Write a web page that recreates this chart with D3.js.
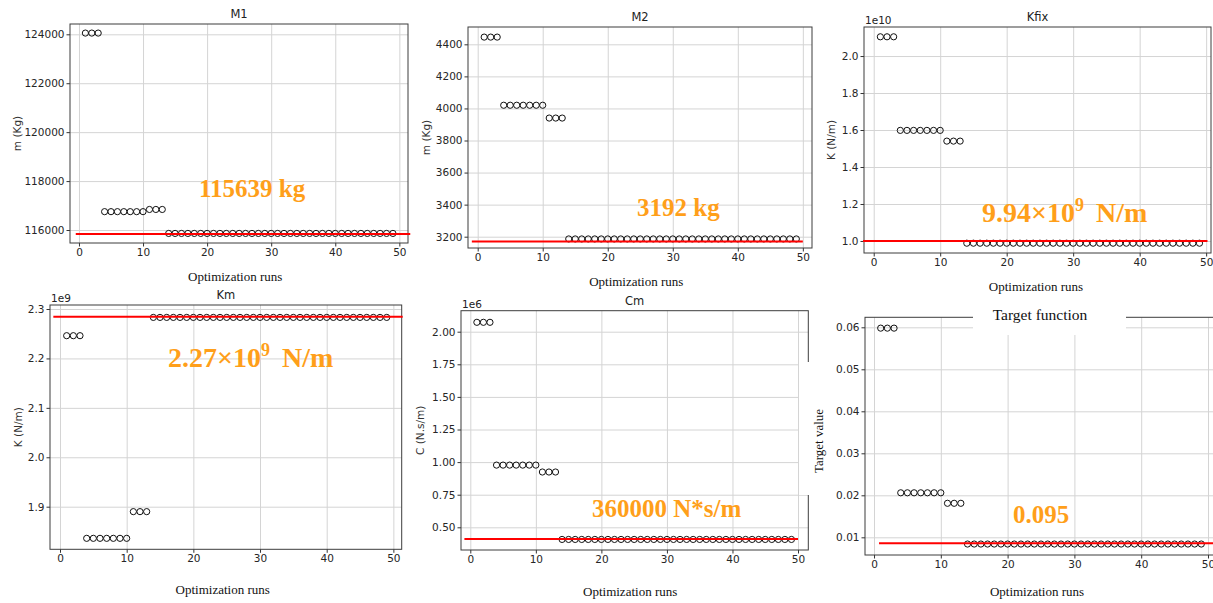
<!DOCTYPE html>
<html>
<head>
<meta charset="utf-8">
<script src="https://cdn.jsdelivr.net/npm/d3@7"></script>
<style>
body { margin: 0; background: #fff; }
svg { display: block; }
.tick text { font-family: "DejaVu Sans", sans-serif; font-size: 10.5px; fill: #262626; }
.axis .tick line { stroke: #333; }
.grid .tick line { stroke: #d4d4d4; }
.serif { font-family: "Liberation Serif", "Times New Roman", serif; }
.sans { font-family: "DejaVu Sans", sans-serif; }
</style>
</head>
<body>
<script>
var w = 1213;
var h = 603;

// optimization run index, x axis
var runs = [1, 2, 3, 4, 5, 6, 7, 8, 9, 10, 11, 12, 13, 14, 15, 16, 17, 18, 19, 20,
    21, 22, 23, 24, 25, 26, 27, 28, 29, 30, 31, 32, 33, 34, 35, 36, 37, 38, 39, 40,
    41, 42, 43, 44, 45, 46, 47, 48, 49];
var runTicks = [0, 10, 20, 30, 40, 50];

// M1 (kg)
var m1Values = [124050, 124050, 124050,
    116750, 116750, 116750, 116750, 116750, 116750, 116750,
    116840, 116840, 116840,
    115860, 115860, 115860, 115860, 115860, 115860, 115860, 115860, 115860, 115860, 115860, 115860,
    115860, 115860, 115860, 115860, 115860, 115860, 115860, 115860, 115860, 115860, 115860, 115860,
    115860, 115860, 115860, 115860, 115860, 115860, 115860, 115860, 115860, 115860, 115860, 115860];
var m1Optimum = 115840;
var m1Ticks = [116000, 118000, 120000, 122000, 124000];

// M2 (kg)
var m2Values = [4445, 4445, 4445,
    4020, 4020, 4020, 4020, 4020, 4020, 4020,
    3940, 3940, 3940,
    3186, 3186, 3186, 3186, 3186, 3186, 3186, 3186, 3186, 3186, 3186, 3186,
    3186, 3186, 3186, 3186, 3186, 3186, 3186, 3186, 3186, 3186, 3186, 3186,
    3186, 3186, 3186, 3186, 3186, 3186, 3186, 3186, 3186, 3186, 3186, 3186];
var m2Optimum = 3170;
var m2Ticks = [3200, 3400, 3600, 3800, 4000, 4200, 4400];

// Kfix (N/m)
var kfixValues = [2.104e10, 2.104e10, 2.104e10,
    1.598e10, 1.598e10, 1.598e10, 1.598e10, 1.598e10, 1.598e10, 1.598e10,
    1.540e10, 1.540e10, 1.540e10,
    0.988e10, 0.988e10, 0.988e10, 0.988e10, 0.988e10, 0.988e10, 0.988e10, 0.988e10, 0.988e10, 0.988e10, 0.988e10, 0.988e10,
    0.988e10, 0.988e10, 0.988e10, 0.988e10, 0.988e10, 0.988e10, 0.988e10, 0.988e10, 0.988e10, 0.988e10, 0.988e10, 0.988e10,
    0.988e10, 0.988e10, 0.988e10, 0.988e10, 0.988e10, 0.988e10, 0.988e10, 0.988e10, 0.988e10, 0.988e10, 0.988e10, 0.988e10];
var kfixOptimum = 1.0e10;
var kfixTicks = [1.0e10, 1.2e10, 1.4e10, 1.6e10, 1.8e10, 2.0e10];

// Km (N/m)
var kmValues = [2.246e9, 2.246e9, 2.246e9,
    1.836e9, 1.836e9, 1.836e9, 1.836e9, 1.836e9, 1.836e9, 1.836e9,
    1.890e9, 1.890e9, 1.890e9,
    2.283e9, 2.283e9, 2.283e9, 2.283e9, 2.283e9, 2.283e9, 2.283e9, 2.283e9, 2.283e9, 2.283e9, 2.283e9, 2.283e9,
    2.283e9, 2.283e9, 2.283e9, 2.283e9, 2.283e9, 2.283e9, 2.283e9, 2.283e9, 2.283e9, 2.283e9, 2.283e9, 2.283e9,
    2.283e9, 2.283e9, 2.283e9, 2.283e9, 2.283e9, 2.283e9, 2.283e9, 2.283e9, 2.283e9, 2.283e9, 2.283e9, 2.283e9];
var kmOptimum = 2.2845e9;
var kmTicks = [1.9e9, 2.0e9, 2.1e9, 2.2e9, 2.3e9];

// Cm (N.s/m)
var cmValues = [2.072e6, 2.072e6, 2.072e6,
    0.977e6, 0.977e6, 0.977e6, 0.977e6, 0.977e6, 0.977e6, 0.977e6,
    0.924e6, 0.924e6, 0.924e6,
    0.407e6, 0.407e6, 0.407e6, 0.407e6, 0.407e6, 0.407e6, 0.407e6, 0.407e6, 0.407e6, 0.407e6, 0.407e6, 0.407e6,
    0.407e6, 0.407e6, 0.407e6, 0.407e6, 0.407e6, 0.407e6, 0.407e6, 0.407e6, 0.407e6, 0.407e6, 0.407e6, 0.407e6,
    0.407e6, 0.407e6, 0.407e6, 0.407e6, 0.407e6, 0.407e6, 0.407e6, 0.407e6, 0.407e6, 0.407e6, 0.407e6, 0.407e6];
var cmOptimum = 0.41e6;
var cmTicks = [0.5e6, 0.75e6, 1.0e6, 1.25e6, 1.5e6, 1.75e6, 2.0e6];

// target function
var targetValues = [0.0598, 0.0598, 0.0598,
    0.0206, 0.0206, 0.0206, 0.0206, 0.0206, 0.0206, 0.0206,
    0.0181, 0.0181, 0.0181,
    0.0084, 0.0084, 0.0084, 0.0084, 0.0084, 0.0084, 0.0084, 0.0084, 0.0084, 0.0084, 0.0084, 0.0084,
    0.0084, 0.0084, 0.0084, 0.0084, 0.0084, 0.0084, 0.0084, 0.0084, 0.0084, 0.0084, 0.0084, 0.0084,
    0.0084, 0.0084, 0.0084, 0.0084, 0.0084, 0.0084, 0.0084, 0.0084, 0.0084, 0.0084, 0.0084, 0.0084];
var targetOptimum = 0.00857;
var targetTicks = [0.01, 0.02, 0.03, 0.04, 0.05, 0.06];

var svg = d3.select("body")
    .append("svg")
    .attr("width", w)
    .attr("height", h);

svg.append("rect").attr("width", w).attr("height", h).attr("fill", "#fff");

// panel layout (frame in px, domains)
var panels = [
    {title: "M1", values: m1Values, optimum: m1Optimum, yTicks: m1Ticks,
     left: 70, top: 24, right: 408, bottom: 243, xDomain: [-1.40, 51.35], yDomain: [115469, 124421],
     lineX: [-0.5, 51.7], fmt: d3.format("d"), yLabel: "m (Kg)", yLabelX: 16.5,
     value: ["115639 kg"], valueSize: 25, valueX: 199, valueY: 197, xLabelY: 281},
    {title: "M2", values: m2Values, optimum: m2Optimum, yTicks: m2Ticks,
     left: 468, top: 27, right: 812, bottom: 248, xDomain: [-1.49, 51.41], yDomain: [3129.5, 4508],
     lineX: [-0.9, 50], fmt: d3.format("d"), yLabel: "m (Kg)", yLabelX: 426,
     value: ["3192 kg"], valueSize: 25, valueX: 637, valueY: 216, xLabelY: 286},
    {title: "Kfix", values: kfixValues, optimum: kfixOptimum, yTicks: kfixTicks,
     left: 864, top: 27, right: 1211, bottom: 253, xDomain: [-1.46, 50.73], yDomain: [0.935e10, 2.157e10],
     lineX: [-1.6, 50.2], fmt: function (d) { return (d / 1e10).toFixed(1); }, offset: "1e10",
     yLabel: "K (N/m)", yLabelX: 831, value: ["9.94\u00d710", "9", "N/m"], valueSize: 28,
     valueX: 982, valueY: 222, xLabelY: 291},
    {title: "Km", values: kmValues, optimum: kmOptimum, yTicks: kmTicks,
     left: 50, top: 305, right: 401.7, bottom: 549.3, xDomain: [-1.5, 51.25], yDomain: [1.8138e9, 2.3081e9],
     lineX: [-1.0, 51.4], fmt: function (d) { return (d / 1e9).toFixed(1); }, offset: "1e9",
     yLabel: "K (N/m)", yLabelX: 17.5, value: ["2.27\u00d710", "9", "N/m"], valueSize: 28,
     valueX: 168, valueY: 367, xLabelY: 594},
    {title: "Cm", values: cmValues, optimum: cmOptimum, yTicks: cmTicks,
     left: 461, top: 310.7, right: 808.3, bottom: 550, xDomain: [-1.42, 51.57], yDomain: [0.326e6, 2.161e6],
     lineX: [-0.9, 50], fmt: function (d) { return (d / 1e6).toFixed(2); }, offset: "1e6",
     yLabel: "C (N.s/m)", yLabelX: 420, value: ["360000 N*s/m"], valueSize: 25,
     valueX: 592, valueY: 517, xLabelY: 596},
    {title: null, values: targetValues, optimum: targetOptimum, yTicks: targetTicks,
     left: 865, top: 317.3, right: 1216, bottom: 555, xDomain: [-1.35, 51.2], yDomain: [0.00579, 0.06238],
     lineX: [0.75, 51.2], fmt: function (d) { return d.toFixed(2); },
     yLabel: null, value: ["0.095"], valueSize: 25, valueX: 1013, valueY: 523, xLabelY: 596}
];

function drawPanel(p) {
    var xScale = d3.scaleLinear().domain(p.xDomain).range([p.left, p.right]);
    var yScale = d3.scaleLinear().domain(p.yDomain).range([p.bottom, p.top]);
    var g = svg.append("g");

    // grid lines
    g.append("g")
        .attr("class", "grid")
        .attr("transform", "translate(0," + p.bottom + ")")
        .call(d3.axisBottom(xScale).tickValues(runTicks).tickSize(-(p.bottom - p.top)).tickFormat(""))
        .call(function (s) { s.select(".domain").remove(); });
    g.append("g")
        .attr("class", "grid")
        .attr("transform", "translate(" + p.left + ",0)")
        .call(d3.axisLeft(yScale).tickValues(p.yTicks).tickSize(-(p.right - p.left)).tickFormat(""))
        .call(function (s) { s.select(".domain").remove(); });

    // axes
    g.append("g")
        .attr("class", "axis")
        .attr("transform", "translate(0," + p.bottom + ")")
        .call(d3.axisBottom(xScale).tickValues(runTicks).tickSize(3.5).tickPadding(2))
        .call(function (s) { s.select(".domain").remove(); });
    g.append("g")
        .attr("class", "axis")
        .attr("transform", "translate(" + p.left + ",0)")
        .call(d3.axisLeft(yScale).tickValues(p.yTicks).tickSize(3.5).tickPadding(2).tickFormat(p.fmt))
        .call(function (s) { s.select(".domain").remove(); });

    // frame
    g.append("rect")
        .attr("x", p.left)
        .attr("y", p.top)
        .attr("width", p.right - p.left)
        .attr("height", p.bottom - p.top)
        .attr("fill", "none")
        .attr("stroke", "#3c3c3c")
        .attr("stroke-width", 1);

    // run markers
    g.selectAll("circle")
        .data(p.values)
        .enter()
        .append("circle")
        .attr("cx", function (d, i) { return xScale(runs[i]); })
        .attr("cy", function (d) { return yScale(d); })
        .attr("r", 3.1)
        .attr("fill", "none")
        .attr("stroke", "#111")
        .attr("stroke-width", 1);

    // optimum line
    g.append("line")
        .attr("x1", xScale(p.lineX[0]))
        .attr("x2", xScale(p.lineX[1]))
        .attr("y1", yScale(p.optimum))
        .attr("y2", yScale(p.optimum))
        .attr("stroke", "#ff0000")
        .attr("stroke-width", 2);

    // optimum value label
    var t = g.append("text")
        .attr("class", "serif")
        .attr("x", p.valueX)
        .attr("y", p.valueY)
        .attr("font-size", p.valueSize)
        .attr("font-weight", "bold")
        .attr("fill", "#ff9f1a");
    t.append("tspan").text(p.value[0]);
    if (p.value.length > 1) {
        t.append("tspan").attr("dy", -11).attr("font-size", 18).text(p.value[1]);
        t.append("tspan").attr("dy", 11).attr("dx", 12).text(p.value[2]);
    }

    if (p.title) {
        g.append("text")
            .attr("class", "sans")
            .attr("x", (p.left + p.right) / 2)
            .attr("y", p.top - 6)
            .attr("text-anchor", "middle")
            .attr("font-size", 11.5)
            .attr("fill", "#222")
            .text(p.title);
    }
    if (p.offset) {
        g.append("text")
            .attr("class", "sans")
            .attr("x", p.left + 1)
            .attr("y", p.top - 3)
            .attr("font-size", 10.5)
            .attr("fill", "#222")
            .text(p.offset);
    }
    if (p.yLabel) {
        g.append("text")
            .attr("class", "sans")
            .attr("transform", "translate(" + p.yLabelX + "," + ((p.top + p.bottom) / 2) + ") rotate(-90)")
            .attr("text-anchor", "middle")
            .attr("dominant-baseline", "central")
            .attr("font-size", 10.5)
            .attr("fill", "#333")
            .text(p.yLabel);
    }

    g.append("text")
        .attr("class", "serif")
        .attr("x", xScale(25) - 4)
        .attr("y", p.xLabelY)
        .attr("text-anchor", "middle")
        .attr("font-size", 13)
        .attr("fill", "#111")
        .text("Optimization runs");
}

panels.forEach(drawPanel);

// pasted-in label patches
svg.append("rect")
    .attr("x", 799).attr("y", 362)
    .attr("width", 33).attr("height", 133)
    .attr("fill", "#fff");
svg.append("text")
    .attr("class", "serif")
    .attr("transform", "translate(818,441) rotate(-90)")
    .attr("text-anchor", "middle")
    .attr("dominant-baseline", "central")
    .attr("font-size", 13)
    .attr("fill", "#111")
    .text("Target value");

svg.append("rect")
    .attr("x", 973).attr("y", 297)
    .attr("width", 153).attr("height", 38)
    .attr("fill", "#fff");
svg.append("text")
    .attr("class", "serif")
    .attr("x", 1040)
    .attr("y", 320)
    .attr("text-anchor", "middle")
    .attr("font-size", 15.5)
    .attr("fill", "#111")
    .text("Target function");
</script>
</body>
</html>
